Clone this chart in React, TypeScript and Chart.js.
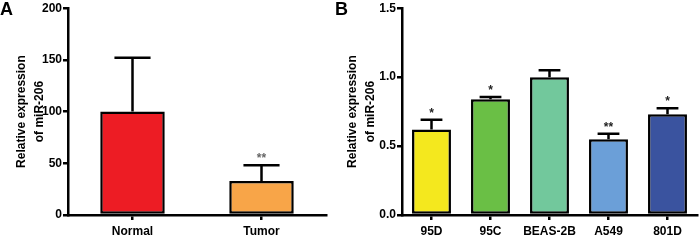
import React, { useEffect, useRef } from 'react';
import { Chart, registerables } from 'chart.js';

Chart.register(...registerables);

const FONT = '"Liberation Sans", Arial, Helvetica, sans-serif';

// Panel A
const tissueLabels = ['Normal', 'Tumor'];
const tissueValues = [100, 33];
const tissueErrorTops = [152, 48];
const tissueStars = ['', '**'];
const tissueColors = ['#ed1c24', '#f8a548'];
const tissueMax = 200;
const tissueStep = 50;

// Panel B
const cellLabels = ['95D', '95C', 'BEAS-2B', 'A549', '801D'];
const cellValues = [0.62, 0.84, 1.0, 0.55, 0.73];
const cellErrorTops = [0.69, 0.855, 1.05, 0.59, 0.775];
const cellStars = ['*', '*', '', '**', '*'];
const cellColors = ['#f4e81e', '#6abf45', '#72c89c', '#6b9fd8', '#3a539f'];
const cellMax = 1.5;
const cellStep = 0.5;

const yTitle = ['Relative expression', 'of miR-206'];

function makeErrorPlugin(errs: number[], stars: string[], starColor: string) {
  return {
    id: 'errbars',
    afterDatasetsDraw(chart: any) {
      const ctx = chart.ctx;
      const meta = chart.getDatasetMeta(0);
      const yScale = chart.scales.y;
      ctx.save();
      meta.data.forEach((bar: any, i: number) => {
        const x = bar.x;
        const yTop = bar.y;
        const yErr = yScale.getPixelForValue(errs[i]);
        const cw = bar.width * 0.28;
        ctx.strokeStyle = '#000';
        ctx.lineWidth = 2.5;
        ctx.beginPath();
        ctx.moveTo(x, yTop);
        ctx.lineTo(x, yErr);
        ctx.moveTo(x - cw, yErr);
        ctx.lineTo(x + cw, yErr);
        ctx.stroke();
        if (stars[i]) {
          ctx.fillStyle = starColor;
          ctx.font = 'bold 12px ' + FONT;
          ctx.textAlign = 'center';
          ctx.textBaseline = 'alphabetic';
          ctx.fillText(stars[i], x, yErr - 3);
        }
      });
      ctx.restore();
    },
  };
}

function makeConfig(
  labels: string[],
  values: number[],
  colors: string[],
  errs: number[],
  stars: string[],
  starColor: string,
  max: number,
  step: number,
  decimals: number,
  barPct: number,
  yWidth: number,
  xHeight: number,
  titlePad: number,
  padRight: number
): any {
  return {
    type: 'bar',
    data: {
      labels,
      datasets: [
        {
          data: values,
          backgroundColor: colors,
          borderColor: '#000',
          borderWidth: 2.5,
          borderSkipped: false,
          barPercentage: barPct,
          categoryPercentage: 1,
        },
      ],
    },
    options: {
      responsive: false,
      animation: false,
      layout: { padding: { top: 7, right: padRight, bottom: 0, left: 0 } },
      plugins: { legend: { display: false }, tooltip: { enabled: false } },
      scales: {
        x: {
          grid: {
            drawOnChartArea: false,
            offset: false,
            color: '#000',
            lineWidth: 2.5,
            tickLength: 5,
          },
          border: { color: '#000', width: 2.5 },
          ticks: {
            color: '#000',
            font: { family: FONT, size: 12, weight: 'bold' },
            padding: 4,
            maxRotation: 0,
            autoSkip: false,
          },
          afterFit: (s: any) => {
            s.height = xHeight;
          },
        },
        y: {
          min: 0,
          max,
          grid: {
            drawOnChartArea: false,
            color: '#000',
            lineWidth: 2.5,
            tickLength: 5,
          },
          border: { color: '#000', width: 2.5 },
          ticks: {
            stepSize: step,
            color: '#000',
            font: { family: FONT, size: 12, weight: 'bold' },
            padding: 1,
            callback: (v: any) => Number(v).toFixed(decimals),
          },
          title: {
            display: true,
            text: yTitle,
            color: '#000',
            font: { family: FONT, size: 12, weight: 'bold', lineHeight: 1.55 },
            padding: { top: titlePad, bottom: 0 },
          },
          afterFit: (s: any) => {
            s.width = yWidth;
          },
        },
      },
    },
    plugins: [makeErrorPlugin(errs, stars, starColor)],
  };
}

export default function App() {
  const refA = useRef<HTMLCanvasElement>(null);
  const refB = useRef<HTMLCanvasElement>(null);

  useEffect(() => {
    const a = new Chart(
      refA.current as HTMLCanvasElement,
      makeConfig(
        tissueLabels,
        tissueValues,
        tissueColors,
        tissueErrorTops,
        tissueStars,
        '#666',
        tissueMax,
        tissueStep,
        0,
        0.5,
        68,
        25,
        12,
        10
      )
    );
    const b = new Chart(
      refB.current as HTMLCanvasElement,
      makeConfig(
        cellLabels,
        cellValues,
        cellColors,
        cellErrorTops,
        cellStars,
        '#222',
        cellMax,
        cellStep,
        1,
        0.66,
        64,
        25,
        5,
        3
      )
    );
    return () => {
      a.destroy();
      b.destroy();
    };
  }, []);

  const letter: React.CSSProperties = {
    position: 'absolute',
    top: 0,
    fontFamily: FONT,
    fontWeight: 'bold',
    fontSize: 18,
    lineHeight: '18px',
    color: '#000',
  };

  return (
    <div
      style={{
        position: 'fixed',
        left: 0,
        top: 0,
        width: 700,
        height: 240,
        background: '#fff',
        overflow: 'hidden',
      }}
    >
      <canvas
        ref={refA}
        width={336}
        height={240}
        style={{ position: 'absolute', left: 0, top: 0, width: 336, height: 240 }}
      />
      <canvas
        ref={refB}
        width={362}
        height={240}
        style={{ position: 'absolute', left: 338, top: 0, width: 362, height: 240 }}
      />
      <div style={{ ...letter, left: 0 }}>A</div>
      <div style={{ ...letter, left: 335 }}>B</div>
    </div>
  );
}
